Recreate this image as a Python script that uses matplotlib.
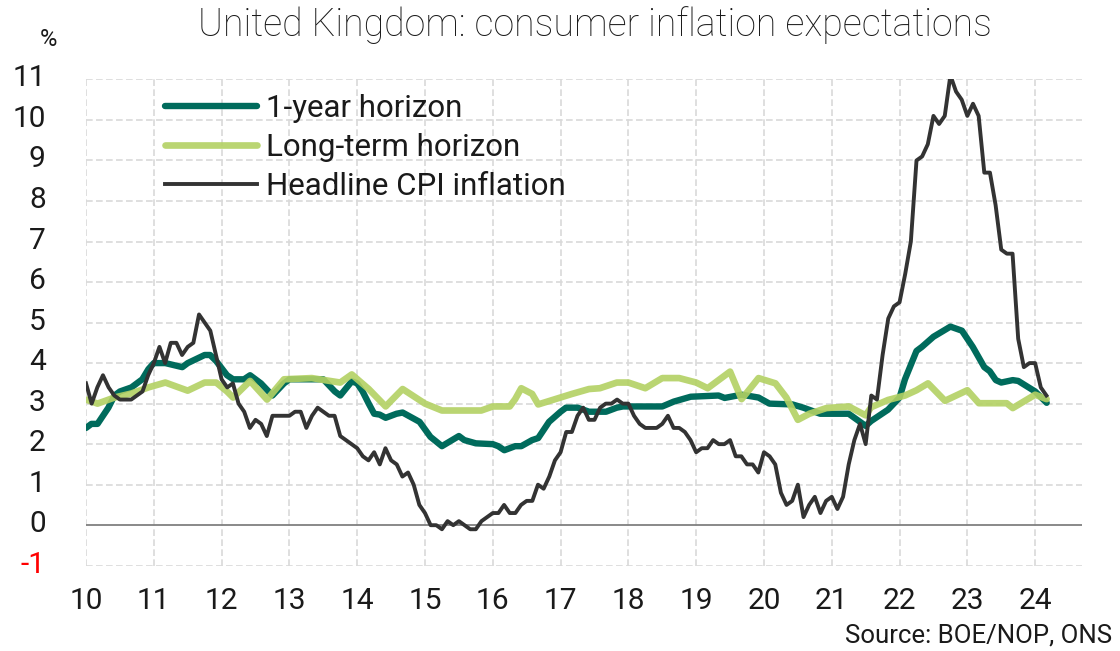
import numpy as np
import matplotlib
matplotlib.use("Agg")
import matplotlib.pyplot as plt
import matplotlib.transforms as mtransforms
from matplotlib import font_manager

# Roboto if present, else fall back
names = {f.name for f in font_manager.fontManager.ttflist}
family = "Roboto" if "Roboto" in names else "DejaVu Sans"
plt.rcParams["font.family"] = [family, "DejaVu Sans"]

# headline CPI inflation, % y/y, monthly Jan 2010 - Mar 2024
cpi = [
    3.5, 3.0, 3.4, 3.7, 3.4, 3.2, 3.1, 3.1, 3.1, 3.2, 3.3, 3.7,  # 2010
    4.0, 4.4, 4.0, 4.5, 4.5, 4.2, 4.4, 4.5, 5.2, 5.0, 4.8, 4.2,  # 2011
    3.6, 3.4, 3.5, 3.0, 2.8, 2.4, 2.6, 2.5, 2.2, 2.7, 2.7, 2.7,  # 2012
    2.7, 2.8, 2.8, 2.4, 2.7, 2.9, 2.8, 2.7, 2.7, 2.2, 2.1, 2.0,  # 2013
    1.9, 1.7, 1.6, 1.8, 1.5, 1.9, 1.6, 1.5, 1.2, 1.3, 1.0, 0.5,  # 2014
    0.3, 0.0, 0.0, -0.1, 0.1, 0.0, 0.1, 0.0, -0.1, -0.1, 0.1, 0.2,  # 2015
    0.3, 0.3, 0.5, 0.3, 0.3, 0.5, 0.6, 0.6, 1.0, 0.9, 1.2, 1.6,  # 2016
    1.8, 2.3, 2.3, 2.7, 2.9, 2.6, 2.6, 2.9, 3.0, 3.0, 3.1, 3.0,  # 2017
    3.0, 2.7, 2.5, 2.4, 2.4, 2.4, 2.5, 2.7, 2.4, 2.4, 2.3, 2.1,  # 2018
    1.8, 1.9, 1.9, 2.1, 2.0, 2.0, 2.1, 1.7, 1.7, 1.5, 1.5, 1.3,  # 2019
    1.8, 1.7, 1.5, 0.8, 0.5, 0.6, 1.0, 0.2, 0.5, 0.7, 0.3, 0.6,  # 2020
    0.7, 0.4, 0.7, 1.5, 2.1, 2.5, 2.0, 3.2, 3.1, 4.2, 5.1, 5.4,  # 2021
    5.5, 6.2, 7.0, 9.0, 9.1, 9.4, 10.1, 9.9, 10.1, 11.1, 10.7, 10.5,  # 2022
    10.1, 10.4, 10.1, 8.7, 8.7, 7.9, 6.8, 6.7, 6.7, 4.6, 3.9, 4.0,  # 2023
    4.0, 3.4, 3.2,  # 2024
]
cpi_dates = 10 + np.arange(len(cpi)) / 12

# 1-year ahead expectations (BOE/NOP survey)
one_year_dates = [10.0, 10.08, 10.17, 10.33, 10.42, 10.5, 10.67, 10.83, 10.92, 11.0,
                  11.17, 11.42, 11.5, 11.75, 11.83, 11.92, 12.08, 12.17, 12.33, 12.42,
                  12.58, 12.75, 12.92, 13.0, 13.33, 13.5, 13.67, 13.75, 13.92, 14.0,
                  14.08, 14.17, 14.25, 14.33, 14.42, 14.58, 14.67, 14.92, 15.08, 15.25,
                  15.5, 15.58, 15.75, 16.0, 16.08, 16.17, 16.33, 16.42, 16.58, 16.67,
                  16.83, 17.0, 17.08, 17.25, 17.42, 17.67, 17.83, 17.92, 18.5, 18.67,
                  18.92, 19.33, 19.42, 19.67, 19.92, 20.08, 20.42, 20.58, 20.83, 21.25,
                  21.5, 21.58, 21.83, 22.0, 22.08, 22.25, 22.33, 22.5, 22.75, 22.92,
                  23.08, 23.25, 23.33, 23.42, 23.5, 23.67, 23.75, 24.0, 24.17]
one_year = [2.4, 2.5, 2.5, 2.9, 3.2, 3.3, 3.4, 3.6, 3.85, 4.0,
            4.0, 3.9, 4.0, 4.2, 4.2, 4.05, 3.7, 3.6, 3.6, 3.7,
            3.5, 3.2, 3.5, 3.6, 3.6, 3.6, 3.3, 3.2, 3.55, 3.5,
            3.3, 3.0, 2.75, 2.73, 2.65, 2.75, 2.78, 2.55, 2.18, 1.95,
            2.2, 2.1, 2.02, 2.0, 1.95, 1.85, 1.95, 1.95, 2.1, 2.15,
            2.55, 2.8, 2.9, 2.9, 2.8, 2.8, 2.9, 2.93, 2.93, 3.05,
            3.17, 3.2, 3.14, 3.22, 3.15, 3.0, 2.98, 2.9, 2.75, 2.75,
            2.45, 2.57, 2.85, 3.15, 3.6, 4.3, 4.4, 4.65, 4.9, 4.8,
            4.4, 3.9, 3.8, 3.58, 3.52, 3.58, 3.56, 3.3, 3.02]

# long-term expectations
long_term_dates = [10.0, 10.17, 10.42, 10.67, 10.92, 11.17, 11.5, 11.75, 11.92, 12.08,
                   12.17, 12.42, 12.67, 12.92, 13.33, 13.75, 13.92, 14.17, 14.42, 14.5,
                   14.67, 15.0, 15.25, 15.83, 16.0, 16.25, 16.33, 16.42, 16.58, 16.67,
                   16.92, 17.17, 17.42, 17.58, 17.83, 18.0, 18.25, 18.5, 18.75, 19.0,
                   19.17, 19.5, 19.67, 19.92, 20.17, 20.33, 20.5, 20.67, 20.92, 21.25,
                   21.5, 21.58, 21.83, 22.08, 22.25, 22.42, 22.67, 23.0, 23.17, 23.58,
                   23.67, 24.0, 24.17]
long_term = [3.1, 3.0, 3.15, 3.25, 3.4, 3.52, 3.32, 3.52, 3.52, 3.3,
             3.15, 3.56, 3.1, 3.6, 3.63, 3.52, 3.72, 3.36, 2.93, 3.07,
             3.36, 3.0, 2.83, 2.83, 2.93, 2.93, 3.11, 3.38, 3.24, 2.98,
             3.11, 3.24, 3.36, 3.38, 3.52, 3.52, 3.38, 3.63, 3.63, 3.52,
             3.38, 3.79, 3.11, 3.63, 3.5, 3.15, 2.6, 2.75, 2.89, 2.93,
             2.71, 2.91, 3.09, 3.2, 3.33, 3.5, 3.07, 3.33, 3.01, 3.01,
             2.89, 3.22, 3.11]

year_ticks = list(range(10, 25))
value_ticks = list(range(-1, 12))

teal = "#006B5C"
lime = "#B3D163"
dark = "#333333"

fig = plt.figure(figsize=(11.2, 6.51), dpi=100)
ax = fig.add_axes([0.0768, 0.131, 0.966 - 0.0768, 0.878 - 0.131])

# dashed grid
for t in year_ticks:
    ax.axvline(t, color="#D9D9D9", lw=1.2, ls=(0, (4, 2)), zorder=0)
for v in value_ticks:
    if v == 0:
        continue
    ax.axhline(v, color="#D9D9D9", lw=1.2, ls=(0, (4, 2)), zorder=0)
ax.axhline(0, color="#808080", lw=1.3, zorder=1)

ax.plot(one_year_dates, one_year, color=teal, lw=4.6, solid_joinstyle="round",
        solid_capstyle="round", label="1-year horizon", zorder=2)
ax.plot(long_term_dates, long_term, color=lime, lw=4.8, alpha=0.9,
        solid_joinstyle="round", solid_capstyle="round",
        label="Long-term horizon", zorder=3)
ax.plot(cpi_dates, cpi, color=dark, lw=2.8, solid_joinstyle="round",
        label="Headline CPI inflation", zorder=4)

ax.set_xlim(10, 24.69)
ax.set_ylim(-1, 11)
for s in ax.spines.values():
    s.set_visible(False)

ax.set_xticks(year_ticks)
ax.set_xticklabels([str(t) for t in year_ticks])
ax.set_yticks(value_ticks)
ax.set_yticklabels([str(v) for v in value_ticks])
ax.tick_params(axis="both", length=0, labelsize=21.5, labelcolor="#1A1A1A")
ax.tick_params(axis="y", pad=29)
ax.tick_params(axis="x", pad=15)
shift = mtransforms.ScaledTranslation(0, 4 / 100, fig.dpi_scale_trans)
for lab in ax.get_yticklabels():
    lab.set_horizontalalignment("right")
    lab.set_transform(lab.get_transform() + shift)
    if lab.get_text() == "-1":
        lab.set_color("red")

leg = ax.legend(loc="upper left", bbox_to_anchor=(0.079, 0.970), frameon=False,
                fontsize=22.5, handlelength=2.95, handletextpad=0.3,
                labelspacing=0.32, borderpad=0, borderaxespad=0)
for txt in leg.get_texts():
    txt.set_color("#1A1A1A")

fig.text(48 / 1120, 1 - 40 / 651, "%", fontsize=17, ha="center", va="center",
         color="#1A1A1A")
fig.text(595 / 1120, 1 - 25 / 651, "United Kingdom: consumer inflation expectations",
         fontsize=27, ha="center", va="center", fontweight="light", color="#1A1A1A")
fig.text(1112 / 1120, 1 - 635 / 651, "Source: BOE/NOP, ONS", fontsize=18.5,
         ha="right", va="center", color="#1A1A1A")

fig.savefig("out.png", dpi=100)
